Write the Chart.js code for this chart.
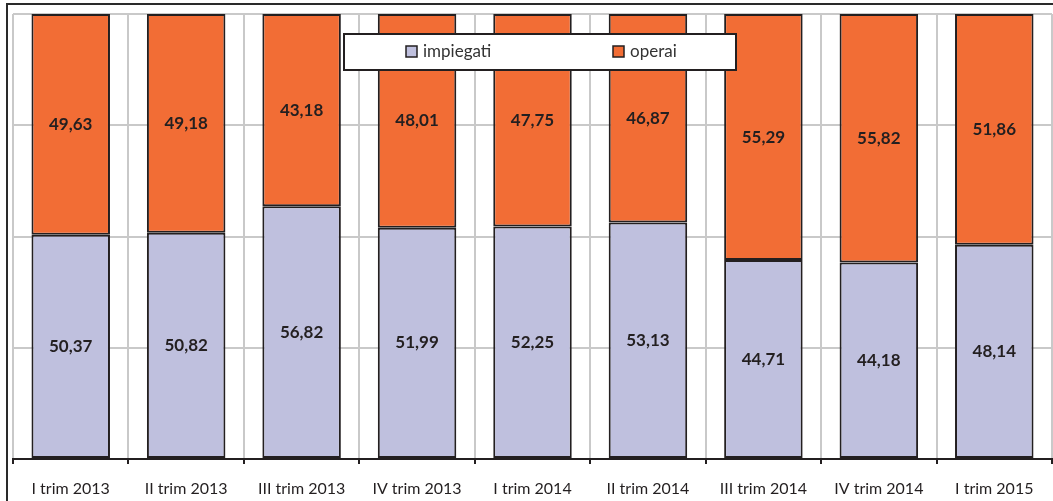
<!DOCTYPE html>
<html>
<head>
<meta charset="utf-8">
<script src="https://cdn.jsdelivr.net/npm/chart.js@4.4.1/dist/chart.umd.min.js"></script>
<style>
  html, body { margin: 0; padding: 0; background: #fff; }
  #wrap { width: 1053px; height: 501px; position: relative; }
</style>
</head>
<body>
<div id="wrap"><canvas id="c" width="1053" height="501"></canvas></div>
<script>
const categories = ['I trim 2013', 'II trim 2013', 'III trim 2013', 'IV trim 2013', 'I trim 2014', 'II trim 2014', 'III trim 2014', 'IV trim 2014', 'I trim 2015'];
const impiegati = [50.37, 50.82, 56.82, 51.99, 52.25, 53.13, 44.71, 44.18, 48.14];
const operai = [49.63, 49.18, 43.18, 48.01, 47.75, 46.87, 55.29, 55.82, 51.86];
const seriesNames = ['impiegati', 'operai'];

const DARK = '#231f20';
const GRID = '#c9c9c9';
const FONT = 'Lato, "Open Sans", sans-serif';

// outer frame around the whole chart
const framePlugin = {
  id: 'frame',
  beforeDraw(chart) {
    const ctx = chart.ctx;
    ctx.save();
    ctx.fillStyle = '#fff';
    ctx.fillRect(0, 0, chart.width, chart.height);
    ctx.strokeStyle = '#2a2a2a';
    ctx.lineWidth = 2;
    ctx.strokeRect(7, 4, chart.width + 20, chart.height + 20);
    ctx.restore();
  }
};

// value labels centred in each segment
const valueLabels = {
  id: 'valueLabels',
  afterDatasetsDraw(chart) {
    const ctx = chart.ctx;
    ctx.save();
    ctx.font = 'bold 17px ' + FONT;
    ctx.fillStyle = DARK;
    ctx.textAlign = 'center';
    ctx.textBaseline = 'middle';
    chart.data.datasets.forEach((ds, di) => {
      chart.getDatasetMeta(di).data.forEach((bar, i) => {
        const p = bar.getProps(['x', 'y', 'base'], true);
        const cy = (p.y + p.base) / 2;
        ctx.fillText(ds.data[i].toFixed(2).replace('.', ','), p.x, cy);
      });
    });
    ctx.restore();
  }
};

// boxed legend overlaid on the plot
const boxLegend = {
  id: 'boxLegend',
  afterDraw(chart) {
    const ctx = chart.ctx;
    ctx.save();
    ctx.fillStyle = '#fff';
    ctx.fillRect(344, 34, 392, 36);
    ctx.strokeStyle = DARK;
    ctx.lineWidth = 2;
    ctx.strokeRect(344, 34, 392, 36);
    const pos = [406, 613];
    ctx.font = '17px ' + FONT;
    ctx.textBaseline = 'middle';
    ctx.textAlign = 'left';
    chart.data.datasets.forEach((ds, i) => {
      const x = pos[i];
      ctx.fillStyle = ds.backgroundColor;
      ctx.fillRect(x, 46, 11, 11);
      ctx.lineWidth = 1.5;
      ctx.strokeStyle = DARK;
      ctx.strokeRect(x, 46, 11, 11);
      ctx.fillStyle = '#333';
      ctx.fillText(ds.label, x + 17, 52);
    });
    ctx.restore();
  }
};

new Chart(document.getElementById('c'), {
  type: 'bar',
  data: {
    labels: categories,
    datasets: [
      { label: seriesNames[0], data: impiegati, backgroundColor: '#bfc0de', borderColor: DARK, borderWidth: 2, borderSkipped: false },
      { label: seriesNames[1], data: operai, backgroundColor: '#f26d35', borderColor: DARK, borderWidth: 2, borderSkipped: false }
    ]
  },
  options: {
    responsive: false,
    animation: false,
    devicePixelRatio: 1,
    layout: { padding: { left: 13, top: 14, right: 1, bottom: 2 } },
    datasets: { bar: { barPercentage: 0.68, categoryPercentage: 1 } },
    plugins: { legend: { display: false }, tooltip: { enabled: false } },
    scales: {
      x: {
        stacked: true,
        offset: true,
        afterFit(scale) { scale.height = 40; },
        grid: { color: GRID, lineWidth: 2, offset: true, drawTicks: true, tickLength: 5, tickColor: DARK, tickWidth: 2 },
        border: { display: true, color: DARK, width: 2 },
        ticks: { color: DARK, font: { family: FONT, size: 16 }, padding: 15, maxRotation: 0, autoSkip: false }
      },
      y: {
        stacked: true,
        min: 0, max: 100,
        afterFit(scale) { scale.width = 0; },
        ticks: { display: false, stepSize: 25 },
        grid: { color: GRID, lineWidth: 2, drawTicks: false },
        border: { display: false }
      }
    }
  },
  plugins: [framePlugin, valueLabels, boxLegend]
});
</script>
</body>
</html>
